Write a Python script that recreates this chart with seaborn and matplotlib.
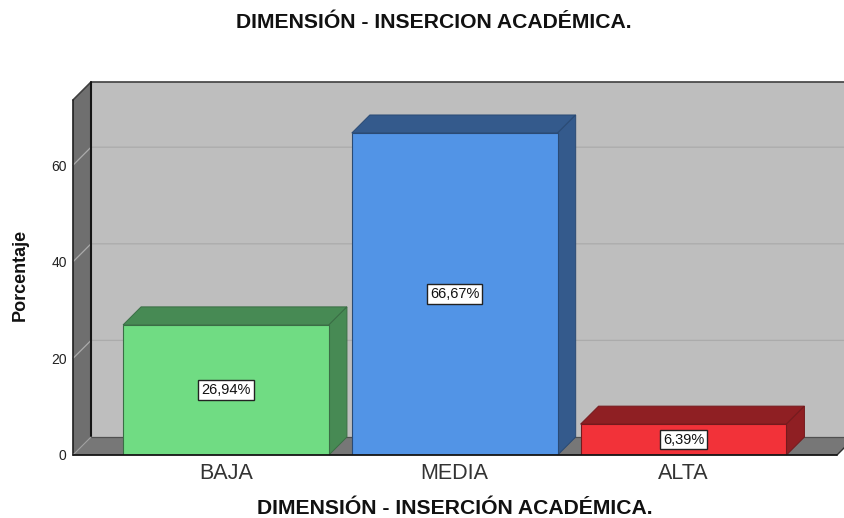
import matplotlib
matplotlib.use("Agg")
import matplotlib.pyplot as plt
from matplotlib.patches import Polygon
import seaborn as sns

categories = ["BAJA", "MEDIA", "ALTA"]
values = [26.94, 66.67, 6.39]
value_labels = ["26,94%", "66,67%", "6,39%"]
front_colors = ["#70DC83", "#5294E6", "#F23239"]
depth_colors = ["#478A54", "#345A8C", "#8F1F23"]
edge_colors = ["#3A6E45", "#2A4A74", "#741A1D"]
y_ticks = [0, 20, 40, 60]
title = "DIMENSIÓN - INSERCION ACADÉMICA."
x_title = "DIMENSIÓN - INSERCIÓN ACADÉMICA."
y_title = "Porcentaje"

W, H = 845, 518
DEPTH = 18
sns.set_theme(style="white")
plt.rcParams["font.family"] = ["Liberation Sans", "DejaVu Sans"]

fig = plt.figure(figsize=(W / 100, H / 100), dpi=100)
ax = fig.add_axes([73 / W, (H - 455) / H, (845 - 73) / W, 355 / H])
ax.patch.set_visible(False)

sns.barplot(x=categories, y=values, hue=categories, palette=front_colors, saturation=1,
            width=0.9, legend=False, ax=ax, linewidth=0.8, zorder=5)
for bar, c in zip(ax.patches, edge_colors):
    bar.set_edgecolor(c)

ppu_x = 228.75
ppu_y = 4.83
ax.set_xlim(-(226 - 73) / ppu_x, (845 - 226) / ppu_x)
ax.set_ylim(0, 355 / ppu_y)
dx, dy = DEPTH / ppu_x, DEPTH / ppu_y
x0, x1 = ax.get_xlim()
y0, y1 = ax.get_ylim()
floor_end = x1 - 8 / ppu_x

def poly(pts, fc, ec="none", lw=0, z=1):
    ax.add_patch(Polygon(pts, closed=True, facecolor=fc, edgecolor=ec, linewidth=lw,
                         zorder=z, clip_on=False))

# back wall, left wall, floor
poly([(x0 + dx, y0 + dy), (x1 + dx, y0 + dy), (x1 + dx, y1 + dy), (x0 + dx, y1 + dy)], "#BEBEBE", z=1)
poly([(x0, y0), (x0 + dx, y0 + dy), (x0 + dx, y1 + dy), (x0, y1)], "#6F6F6F", z=1.2)
poly([(x0, y0), (floor_end, y0), (floor_end + dx, y0 + dy), (x0 + dx, y0 + dy)], "#777777", z=1.2)

# gridlines on the walls
for t in y_ticks[1:]:
    ax.plot([x0, x0 + dx, x1 + dx], [t, t + dy, t + dy], color="#ABABAB", lw=0.9, zorder=1.5, clip_on=False)

# frame lines
ax.plot([x0, x0 + dx, x1 + dx], [y1, y1 + dy, y1 + dy], color="#404040", lw=1.2, zorder=2, clip_on=False)
ax.plot([x0, x0], [y0, y1], color="#202020", lw=1.2, zorder=2, clip_on=False)
ax.plot([x0 + dx, x0 + dx], [y0 + dy, y1 + dy], color="#151515", lw=1.5, zorder=2, clip_on=False)
ax.plot([x0 + dx, x1 + dx], [y0 + dy, y0 + dy], color="#505050", lw=0.9, zorder=2, clip_on=False)
ax.plot([floor_end, floor_end + dx], [y0, y0 + dy], color="#303030", lw=1, zorder=2, clip_on=False)
ax.plot([x0, x0 + dx], [y0, y0 + dy], color="#A0A0A0", lw=0.8, zorder=2, clip_on=False)
ax.plot([x0, floor_end], [y0, y0], color="#151515", lw=1.3, zorder=6, clip_on=False)

# bar depth faces and value labels
half = 0.45
for i, (v, c, e, lab) in enumerate(zip(values, depth_colors, edge_colors, value_labels)):
    l, r = i - half, i + half
    poly([(l, v), (r, v), (r + dx, v + dy), (l + dx, v + dy)], c, ec=e, lw=0.7, z=4)
    poly([(r, 0), (r + dx, dy), (r + dx, v + dy), (r, v)], c, ec=e, lw=0.7, z=4)
    ax.text(i, v / 2, lab, ha="center", va="center", fontsize=10.5, color="#111111", zorder=7,
            bbox=dict(boxstyle="square,pad=0.2", fc="white", ec="#222222", lw=1))

sns.despine(ax=ax, left=True, bottom=True, top=True, right=True)
ax.set_yticks(y_ticks)
ax.tick_params(axis="y", length=0, pad=4.5, labelsize=10, labelcolor="#222222")
ax.tick_params(axis="x", length=0, pad=6, labelsize=15.5, labelcolor="#333333")
ax.set_ylabel("")
ax.set_xlabel("")

fig.text(433.5 / W, 1 - 22 / H, title, ha="center", va="center", fontsize=15.2, fontweight="bold", color="#111111")
fig.text(454.5 / W, 1 - 509 / H, x_title, ha="center", va="center", fontsize=15.2, fontweight="bold", color="#111111")
fig.text(20 / W, 1 - 275 / H, y_title, ha="center", va="center", rotation=90, fontsize=13, fontweight="bold", color="#111111")

fig.savefig("out.png", dpi=100, facecolor="white")
